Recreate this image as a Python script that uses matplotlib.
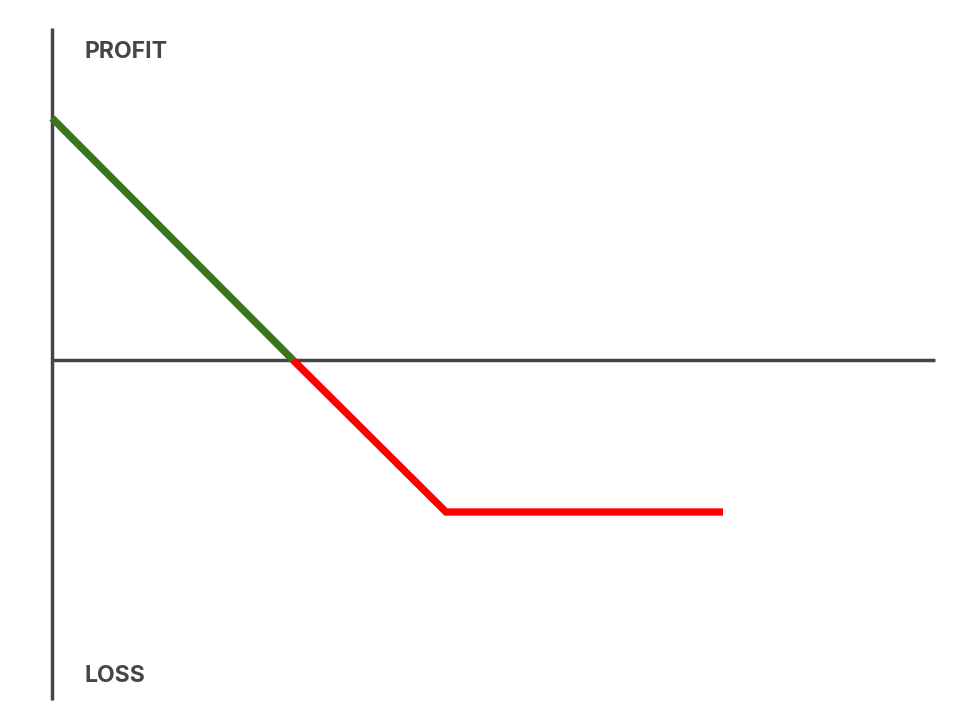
import matplotlib
matplotlib.use('Agg')
import matplotlib.pyplot as plt

# payoff diagram values (price, profit)
profit_price = [0, 24.1]
profit_value = [24.2, 0]
loss_price = [24.1, 39.4, 67.1]
loss_value = [0, -15.2, -15.2]

axis_gray = '#454545'
green = '#38761d'
red = '#ff0000'

fig = plt.figure(figsize=(9.6, 7.2), dpi=100)
ax = fig.add_axes([0, 0, 1, 1])
ax.set_xlim(-5.2, 90.8)
ax.set_ylim(-36, 36)
ax.axis('off')

# axes lines
ax.plot([0, 0], [33.2, -34.0], color=axis_gray, lw=2.5, solid_capstyle='butt')
ax.plot([0, 88.3], [0, 0], color=axis_gray, lw=2.5, solid_capstyle='butt')

ax.plot(profit_price, profit_value, color=green, lw=5.3, solid_capstyle='butt')
ax.plot(loss_price, loss_value, color=red, lw=5.3, solid_capstyle='butt',
        solid_joinstyle='miter')

ax.text(3.3, 30.8, 'PROFIT', family=['Inter', 'DejaVu Sans'], weight='bold',
        fontsize=16.6, color=axis_gray, va='center', ha='left')
ax.text(3.3, -31.6, 'LOSS', family=['Inter', 'DejaVu Sans'], weight='bold',
        fontsize=16.6, color=axis_gray, va='center', ha='left')

fig.savefig('out.png', dpi=100, facecolor='white')
